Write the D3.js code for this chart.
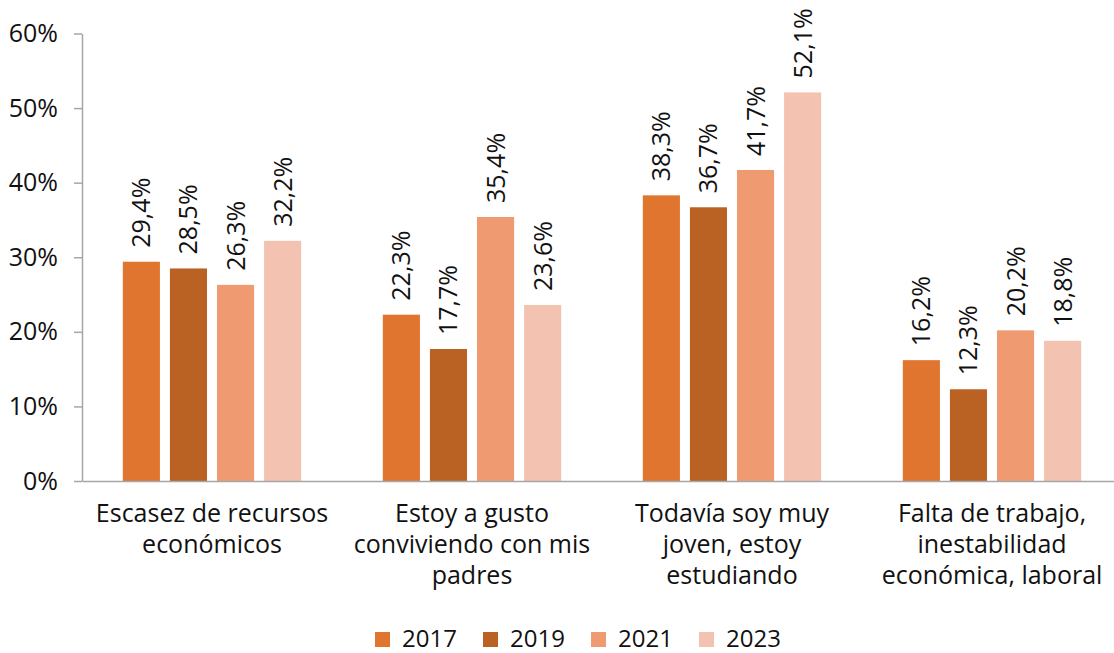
<!DOCTYPE html>
<html>
<head>
<meta charset="utf-8">
<title>Motivos</title>
<script src="https://cdn.jsdelivr.net/npm/d3@7"></script>
<style>
  body { margin: 0; background: #fff; }
  text { font-family: "Open Sans", "Noto Sans", sans-serif; fill: #111; }
</style>
</head>
<body>
<div id="container"></div>
<script>
  // Data.
  const categories = [
    ["Escasez de recursos", "económicos"],
    ["Estoy a gusto", "conviviendo con mis", "padres"],
    ["Todavía soy muy", "joven, estoy", "estudiando"],
    ["Falta de trabajo,", "inestabilidad", "económica, laboral"]
  ];
  const years = ["2017", "2019", "2021", "2023"];
  const values2017 = [29.4, 22.3, 38.3, 16.2];
  const values2019 = [28.5, 17.7, 36.7, 12.3];
  const values2021 = [26.3, 35.4, 41.7, 20.2];
  const values2023 = [32.2, 23.6, 52.1, 18.8];
  const yTicks = [0, 10, 20, 30, 40, 50, 60];
  const colors = ["#e0752f", "#ba6224", "#f09a72", "#f4c2b1"];

  const series = [values2017, values2019, values2021, values2023];

  // Chart dimensions.
  const width = 1114;
  const height = 653;
  const marginLeft = 82;
  const plotRight = 1122;
  const yBottom = 481;
  const yTop = 33.5;

  const svg = d3.create("svg")
      .attr("width", width)
      .attr("height", height);

  // Scales.
  const x0 = d3.scaleBand()
      .domain(d3.range(categories.length))
      .range([marginLeft, plotRight])
      .paddingInner(0.314)
      .paddingOuter(0.157);

  const x1 = d3.scaleBand()
      .domain(years)
      .range([0, x0.bandwidth()])
      .paddingInner(0.212)
      .paddingOuter(0);

  const y = d3.scaleLinear()
      .domain([0, 60])
      .range([yBottom, yTop]);

  const fmt = v => v.toFixed(1).replace(".", ",") + "%";

  // Bars.
  const groups = svg.append("g")
    .selectAll("g")
    .data(categories.map((c, i) => i))
    .join("g")
      .attr("transform", i => `translate(${x0(i)},0)`);

  groups.selectAll("rect")
    .data(i => years.map((yr, j) => ({ yr, j, v: series[j][i] })))
    .join("rect")
      .attr("x", d => x1(d.yr))
      .attr("y", d => y(d.v))
      .attr("width", x1.bandwidth())
      .attr("height", d => y(0) - y(d.v))
      .attr("fill", d => colors[d.j]);

  // Value labels, rotated.
  groups.selectAll("text")
    .data(i => years.map((yr, j) => ({ yr, j, v: series[j][i] })))
    .join("text")
      .attr("transform", d => `translate(${x1(d.yr) + x1.bandwidth() / 2},${y(d.v) - 14}) rotate(-90)`)
      .attr("dy", "0.36em")
      .attr("text-anchor", "start")
      .style("font-size", "25px")
      .text(d => fmt(d.v));

  // Y axis.
  const yAxis = svg.append("g")
      .attr("transform", `translate(${marginLeft},0)`)
      .call(d3.axisLeft(y).tickValues(yTicks).tickFormat(d => d + "%").tickSize(8).tickPadding(16).tickSizeOuter(0));
  yAxis.select(".domain").attr("stroke", "#a6a6a6").attr("stroke-width", 1.5);
  yAxis.selectAll(".tick line").attr("stroke", "#a6a6a6").attr("stroke-width", 1.5);
  yAxis.selectAll(".tick text").style("font-size", "25px").attr("fill", "#111");

  // X axis line.
  const xAxis = svg.append("g")
      .attr("transform", `translate(0,${yBottom})`)
      .call(d3.axisBottom(x0).tickSize(0).tickSizeOuter(0).tickFormat(""));
  xAxis.select(".domain").attr("stroke", "#a6a6a6").attr("stroke-width", 1.5);

  // Category labels.
  svg.append("g")
    .selectAll("text")
    .data(categories)
    .join("text")
      .attr("text-anchor", "middle")
      .style("font-size", "25px")
      .attr("transform", (c, i) => `translate(${x0(i) + x0.bandwidth() / 2},0)`)
    .selectAll("tspan")
    .data(c => c)
    .join("tspan")
      .attr("x", 0)
      .attr("y", (d, k) => 522 + k * 31)
      .text(d => d);

  // Legend.
  const legend = svg.append("g")
    .selectAll("g")
    .data(years)
    .join("g")
      .attr("transform", (d, j) => `translate(${375 + j * 108},632)`);
  legend.append("rect")
      .attr("width", 15)
      .attr("height", 15)
      .attr("fill", (d, j) => colors[j]);
  legend.append("text")
      .attr("x", 27)
      .attr("y", 15)
      .style("font-size", "24px")
      .text(d => d);

  document.getElementById("container").append(svg.node());
</script>
</body>
</html>
